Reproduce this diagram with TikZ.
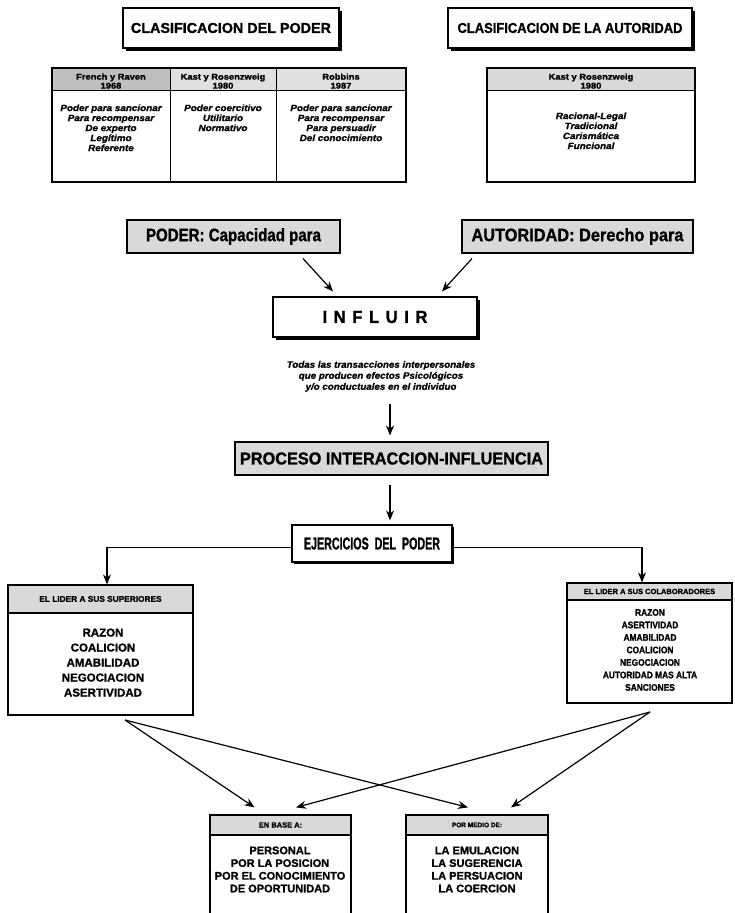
\documentclass[tikz,border=0pt]{standalone}
\usepackage{fontspec}
\usepackage{graphicx}
\setmainfont{Liberation Sans}[BoldFeatures={FakeBold=1.2},BoldItalicFeatures={FakeBold=1.2}]
\newfontfamily\tabfont{Liberation Sans}[FakeStretch=1.1,BoldFeatures={FakeBold=1.4},BoldItalicFeatures={FakeBold=1.4}]
\newfontfamily\narrowfont{Liberation Sans}[FakeStretch=0.88,BoldFeatures={FakeBold=1.2}]
\newfontfamily\descfont{Liberation Sans}[FakeStretch=1.05,BoldItalicFeatures={FakeBold=1.2}]
\usetikzlibrary{arrows.meta,shadows}

% bold title text scaled to a given width and cap height
\newcommand\fitto[3]{\resizebox{#1pt}{#2pt}{\bfseries #3}}

\begin{document}
\begin{tikzpicture}[x=1pt,y=-1pt,line width=1pt,
  frame/.style={draw,fill=white,inner sep=0pt,line width=1.2pt},
  shadowed/.style={frame,drop shadow={shadow xshift=3pt,shadow yshift=-3pt,fill=black,opacity=1}},
  shaded/.style={draw,fill=black!15,inner sep=0pt,line width=1.1pt},
  arr/.style={-{Stealth[length=10pt,width=8pt]},line width=1.2pt},
  tabhead/.style={anchor=north,inner sep=0pt,align=center,font=\tabfont\bfseries\fontsize{8.5}{9}\selectfont},
  tabbody/.style={anchor=north,inner sep=0pt,align=center,font=\tabfont\bfseries\itshape\fontsize{9}{10}\selectfont},
  desc/.style={anchor=north,inner sep=0pt,align=center,font=\descfont\bfseries\itshape\fontsize{9.3}{11}\selectfont},
  listL/.style={anchor=north,inner sep=0pt,align=center,font=\bfseries\fontsize{11.5}{15}\selectfont},
  listR/.style={anchor=north,inner sep=0pt,align=center,font=\narrowfont\bfseries\fontsize{9.5}{12.5}\selectfont},
  listB/.style={anchor=north,inner sep=0pt,align=center,font=\bfseries\fontsize{11}{12.7}\selectfont},
  hdrbar/.style={shaded,anchor=north,font=\bfseries\fontsize{8.3}{8.3}\selectfont}
]
\useasboundingbox (0,0) rectangle (735,913);

% ---- titles ----
\node[shadowed,minimum width=216pt,minimum height=40pt] (cp) at (231,28)
  {\fitto{200}{10}{CLASIFICACION DEL PODER}};
\node[shadowed,minimum width=244pt,minimum height=40pt] (ca) at (570,28)
  {\fitto{225}{10}{CLASIFICACION DE LA AUTORIDAD}};

% ---- table: power ----
\fill[black!25] (52,68) rectangle (170,90);
\fill[black!12] (170,68) rectangle (406,90);
\draw (52,90) -- (406,90);
\draw[line width=1.2pt] (52,68) rectangle (406,182);
\draw (170,68) -- (170,182);
\draw (276,68) -- (276,182);
\node[tabhead] (h1) at (111,73) {French y Raven\\1968};
\node[tabhead] (h2) at (223,73) {Kast y Rosenzweig\\1980};
\node[tabhead] (h3) at (341,73) {Robbins\\1987};
\node[tabbody] (b1) at (111,104) {Poder para sancionar\\Para recompensar\\De experto\\Legítimo\\Referente};
\node[tabbody] (b2) at (223,104) {Poder coercitivo\\Utilitario\\Normativo};
\node[tabbody] (b3) at (341,104) {Poder para sancionar\\Para recompensar\\Para persuadir\\Del conocimiento};

% ---- table: authority ----
\fill[black!15] (487,68) rectangle (695,90);
\draw (487,90) -- (695,90);
\draw[line width=1.2pt] (487,68) rectangle (695,182);
\node[tabhead] (h4) at (591,73) {Kast y Rosenzweig\\1980};
\node[tabbody] (b4) at (591,112) {Racional-Legal\\Tradicional\\Carismática\\Funcional};

% ---- definitions ----
\node[shaded,minimum width=213pt,minimum height=33pt] (pod) at (233.5,236.5)
  {\fitto{175}{13}{PODER: Capacidad para}};
\node[shaded,minimum width=231pt,minimum height=33pt] (aut) at (577.5,236.5)
  {\fitto{212}{13}{AUTORIDAD: Derecho para}};

\node[shadowed,minimum width=204pt,minimum height=40pt] (inf) at (375,317)
  {\fitto{105}{12}{I\hspace{0.4em}N\hspace{0.4em}F\hspace{0.4em}L\hspace{0.4em}U\hspace{0.4em}I\hspace{0.4em}R}};

\draw[arr] ([shift={(69.5,5)}]pod.south) -- ([shift={(-42,-5)}]inf.north);
\draw[arr] ([shift={(-105.5,5)}]aut.south) -- ([shift={(67,-5)}]inf.north);

\node[desc] (txt) at (381,360.5)
  {Todas las transacciones interpersonales\\que producen efectos Psicológicos\\y/o conductuales en el individuo};

\node[shaded,minimum width=313pt,minimum height=33pt] (proc) at (391.5,458.5)
  {\fitto{303}{12}{PROCESO INTERACCION-INFLUENCIA}};
\coordinate (d1) at (390,404);
\draw[arr,shorten >=6pt] (d1) -- (d1 |- proc.north);

\node[frame,minimum width=160pt,minimum height=37pt,
  drop shadow={shadow xshift=2pt,shadow yshift=-2pt,fill=black,opacity=1}] (ej) at (372,543.5)
  {\fitto{136}{12}{EJERCICIOS\ \ DEL\ \ PODER}};
\draw[arr,shorten <=9pt,shorten >=4pt] (proc.south -| d1) -- (ej.north -| d1);

% ---- leader boxes ----
\node[frame,minimum width=185pt,minimum height=130pt] (lb) at (100.5,650) {};
\node[hdrbar,minimum width=185pt,minimum height=28pt] (lbh) at (lb.north) {EL LIDER A SUS SUPERIORES};
\node[listL] (lbl) at (103,628) {RAZON\\COALICION\\AMABILIDAD\\NEGOCIACION\\ASERTIVIDAD};

\node[frame,minimum width=165pt,minimum height=120pt] (rb) at (649.5,643) {};
\node[hdrbar,minimum width=165pt,minimum height=17pt,font=\bfseries\fontsize{7.5}{7.5}\selectfont] (rbh) at (rb.north) {EL LIDER A SUS COLABORADORES};
\node[listR] (rbl) at (650,608.6) {RAZON\\ASERTIVIDAD\\AMABILIDAD\\COALICION\\NEGOCIACION\\AUTORIDAD MAS ALTA\\SANCIONES};

\draw[arr] ([shift={(0,4)}]ej.west) -| ([shift={(6.5,0)}]lb.north);
\draw[arr] ([shift={(0,4)}]ej.east) -| ([shift={(-7.5,0)}]rb.north);

% ---- base and means boxes ----
\node[frame,minimum width=141pt,minimum height=110pt] (bl) at (280.5,870) {};
\node[hdrbar,minimum width=141pt,minimum height=20pt,font=\bfseries\fontsize{7.5}{7.5}\selectfont] (blh) at (bl.north) {EN BASE A:};
\node[listB] (bll) at (280,846) {PERSONAL\\POR LA POSICION\\POR EL CONOCIMIENTO\\DE OPORTUNIDAD};

\node[frame,minimum width=142pt,minimum height=110pt] (br) at (477,870) {};
\node[hdrbar,minimum width=142pt,minimum height=20pt,font=\bfseries\fontsize{6.5}{6.5}\selectfont] (brh) at (br.north) {POR MEDIO DE:};
\node[listB] (brl) at (477,846) {LA EMULACION\\LA SUGERENCIA\\LA PERSUACION\\LA COERCION};

\coordinate (ls) at (125,720);
\coordinate (rs) at (650,712);
\draw[arr] (ls) -- ([shift={(-26,-7)}]bl.north);
\draw[arr] (ls) -- ([shift={(-9,-7)}]br.north);
\draw[arr] (rs) -- ([shift={(15.5,-7)}]bl.north);
\draw[arr] (rs) -- ([shift={(34,-7)}]br.north);
\end{tikzpicture}
\end{document}
